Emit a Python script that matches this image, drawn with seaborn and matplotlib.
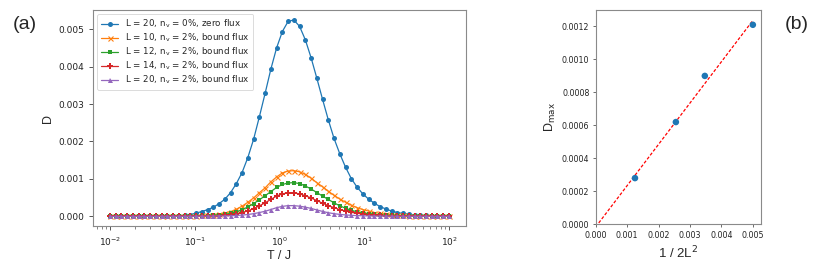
import numpy as np
import matplotlib
matplotlib.use("Agg")
import matplotlib.pyplot as plt
import seaborn as sns

# --------------------------------
# DATA
# --------------------------------

# temperature grid, log10(T / J)
log_T = [-2.000, -1.932, -1.864, -1.797, -1.729, -1.661, -1.593, -1.525, -1.458, -1.390,
         -1.322, -1.254, -1.186, -1.119, -1.051, -0.983, -0.915, -0.847, -0.780, -0.712,
         -0.644, -0.576, -0.508, -0.441, -0.373, -0.305, -0.237, -0.169, -0.102, -0.034,
         0.034, 0.102, 0.169, 0.237, 0.305, 0.373, 0.441, 0.508, 0.576, 0.644,
         0.712, 0.780, 0.847, 0.915, 0.983, 1.051, 1.119, 1.186, 1.254, 1.322,
         1.390, 1.458, 1.525, 1.593, 1.661, 1.729, 1.797, 1.864, 1.932, 2.000]

# D in units of 1e-3
D_L20_zero = [0.001, 0.001, 0.002, 0.002, 0.003, 0.003, 0.004, 0.005, 0.006, 0.008,
              0.010, 0.013, 0.017, 0.025, 0.045, 0.085, 0.126, 0.180, 0.240, 0.340,
              0.456, 0.635, 0.876, 1.170, 1.570, 2.060, 2.660, 3.290, 3.930, 4.500,
              4.940, 5.210, 5.250, 5.080, 4.720, 4.240, 3.690, 3.130, 2.580, 2.080,
              1.670, 1.310, 1.010, 0.780, 0.600, 0.460, 0.350, 0.260, 0.196, 0.140,
              0.100, 0.075, 0.055, 0.040, 0.030, 0.022, 0.016, 0.012, 0.009, 0.007]

D_L10_bound = [0.001, 0.001, 0.001, 0.001, 0.001, 0.002, 0.002, 0.002, 0.003, 0.003,
               0.004, 0.005, 0.007, 0.009, 0.012, 0.017, 0.024, 0.033, 0.045, 0.060,
               0.090, 0.126, 0.190, 0.270, 0.375, 0.490, 0.630, 0.760, 0.920, 1.050,
               1.160, 1.210, 1.220, 1.190, 1.120, 1.020, 0.900, 0.790, 0.670, 0.560,
               0.460, 0.375, 0.300, 0.230, 0.180, 0.140, 0.100, 0.080, 0.060, 0.045,
               0.034, 0.026, 0.020, 0.015, 0.011, 0.008, 0.006, 0.005, 0.004, 0.003]

D_L12_bound = [0.000, 0.000, 0.000, 0.001, 0.001, 0.001, 0.001, 0.001, 0.001, 0.002,
               0.002, 0.002, 0.003, 0.004, 0.006, 0.009, 0.013, 0.019, 0.027, 0.038,
               0.055, 0.080, 0.120, 0.175, 0.250, 0.340, 0.440, 0.550, 0.660, 0.770,
               0.850, 0.890, 0.900, 0.875, 0.810, 0.730, 0.635, 0.540, 0.450, 0.360,
               0.280, 0.215, 0.160, 0.120, 0.090, 0.070, 0.052, 0.040, 0.030, 0.022,
               0.017, 0.013, 0.010, 0.008, 0.006, 0.005, 0.004, 0.003, 0.003, 0.002]

D_L14_bound = [0.000, 0.000, 0.000, 0.000, 0.000, 0.000, 0.001, 0.001, 0.001, 0.001,
               0.001, 0.002, 0.002, 0.002, 0.003, 0.004, 0.006, 0.009, 0.014, 0.021,
               0.031, 0.046, 0.068, 0.100, 0.145, 0.205, 0.280, 0.360, 0.450, 0.540,
               0.600, 0.625, 0.625, 0.600, 0.550, 0.490, 0.420, 0.350, 0.285, 0.230,
               0.180, 0.140, 0.105, 0.080, 0.060, 0.045, 0.034, 0.026, 0.020, 0.015,
               0.011, 0.008, 0.006, 0.005, 0.004, 0.003, 0.002, 0.002, 0.002, 0.001]

D_L20_bound = [0.000, 0.000, 0.000, 0.000, 0.000, 0.000, 0.000, 0.000, 0.000, 0.001,
               0.001, 0.001, 0.001, 0.001, 0.002, 0.002, 0.003, 0.004, 0.006, 0.008,
               0.010, 0.015, 0.022, 0.032, 0.047, 0.070, 0.100, 0.135, 0.180, 0.230,
               0.265, 0.285, 0.285, 0.270, 0.245, 0.210, 0.170, 0.130, 0.095, 0.070,
               0.050, 0.036, 0.026, 0.019, 0.014, 0.010, 0.007, 0.005, 0.004, 0.003,
               0.002, 0.002, 0.001, 0.001, 0.001, 0.001, 0.000, 0.000, 0.000, 0.000]

series_labels = [r"L = 20, n$_\mathrm{v}$ = 0%, zero flux",
                 r"L = 10, n$_\mathrm{v}$ = 2%, bound flux",
                 r"L = 12, n$_\mathrm{v}$ = 2%, bound flux",
                 r"L = 14, n$_\mathrm{v}$ = 2%, bound flux",
                 r"L = 20, n$_\mathrm{v}$ = 2%, bound flux"]
series_values = [D_L20_zero, D_L10_bound, D_L12_bound, D_L14_bound, D_L20_bound]

# panel (b): peak height vs 1/2L^2
inv_2L2 = [0.00125, 0.002551, 0.003472, 0.005]
D_max = [0.00028, 0.00062, 0.00090, 0.00121]


# --------------------------------
# FIGURE
# --------------------------------

sns.set_style("ticks")
plt.rcParams["font.family"] = ["DejaVu Sans"]
plt.rcParams["axes.edgecolor"] = "#8a8a8a"
plt.rcParams["xtick.color"] = "#555555"
plt.rcParams["ytick.color"] = "#555555"
plt.rcParams["xtick.labelcolor"] = "#222222"
plt.rcParams["ytick.labelcolor"] = "#222222"

fig = plt.figure(figsize=(8.3, 2.62), dpi=100)
ax1 = fig.add_axes([0.112, 0.137, 0.4494, 0.8244])
ax2 = fig.add_axes([0.7177, 0.144, 0.1992, 0.818])

label_font = ["Liberation Sans", "DejaVu Sans"]

T = 10 ** np.array(log_T)
markers = ["o", "x", "s", "P", "^"]
sizes = [3.6, 3.6, 3.4, 4.6, 3.6]
colors = sns.color_palette("tab10", 5)

for vals, lab, m, ms, c in zip(series_values, series_labels, markers, sizes, colors):
    sns.lineplot(x=T, y=np.array(vals) * 1e-3, ax=ax1, label=lab, color=c,
                 marker=m, markersize=ms, markeredgewidth=0.8 if m == "x" else 0,
                 markeredgecolor=c, linewidth=0.9)

ax1.set_xscale("log")
ax1.set_yticks([0, 0.001, 0.002, 0.003, 0.004, 0.005])
ax1.set_yticklabels(["0.000", "0.001", "0.002", "0.003", "0.004", "0.005"])
ax1.tick_params(labelsize=6.5, width=0.7, length=3)
ax1.tick_params(which="minor", width=0.5, length=1.8)
ax1.set_xlabel("T / J", fontsize=9, family=label_font, labelpad=2)
ax1.set_ylabel("D", fontsize=9, family=label_font, labelpad=3)
leg = ax1.legend(loc="upper left", fontsize=6.3, labelspacing=0.17,
                 handlelength=2.0, borderpad=0.4, frameon=True)
leg.get_frame().set_linewidth(0.6)

# panel (b)
slope, intercept = np.polyfit(inv_2L2, D_max, 1)
x_fit = np.array([0, max(inv_2L2)])
sns.lineplot(x=x_fit, y=slope * x_fit + intercept, ax=ax2, color="red",
             linestyle=(0, (2.5, 1.5)), linewidth=0.9)
sns.scatterplot(x=inv_2L2, y=D_max, ax=ax2, color=colors[0], s=22,
                edgecolor="none", zorder=3)

ax2.set_xlim(0, 0.00526)
ax2.set_ylim(0, 0.0013)
ax2.set_xticks([0, 0.001, 0.002, 0.003, 0.004, 0.005])
ax2.set_xticklabels(["0.000", "0.001", "0.002", "0.003", "0.004", "0.005"])
ax2.set_yticks([0, 0.0002, 0.0004, 0.0006, 0.0008, 0.0010, 0.0012])
ax2.set_yticklabels(["0.0000", "0.0002", "0.0004", "0.0006", "0.0008", "0.0010", "0.0012"])
ax2.tick_params(labelsize=5.7, width=0.6, length=2.5, pad=2)
ax2.set_xlabel(r"1 / 2L$^2$", fontsize=9.5, family=label_font, labelpad=4)
ax2.set_ylabel(r"D$_\mathrm{max}$", fontsize=9, family=label_font, labelpad=3)

for ax in (ax1, ax2):
    for sp in ax.spines.values():
        sp.set_visible(True)
        sp.set_linewidth(0.8)

fig.text(0.015, 0.905, "(a)", fontsize=14, family=label_font, va="center")
fig.text(0.946, 0.905, "(b)", fontsize=14, family=label_font, va="center")

fig.savefig("out.png", dpi=100)
